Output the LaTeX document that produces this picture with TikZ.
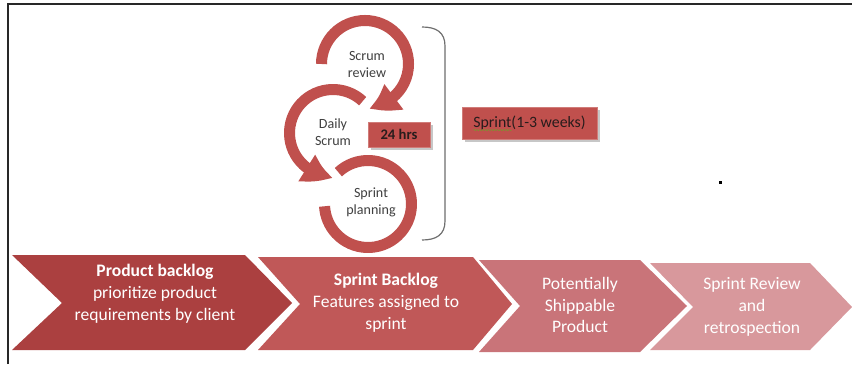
\documentclass[tikz,border=0pt]{standalone}
\usepackage{fontspec}
\setmainfont{Carlito}
\usetikzlibrary{arrows.meta,bending,decorations.pathmorphing}

\definecolor{ringred}{RGB}{192,80,77}
\definecolor{chevA}{RGB}{171,64,64}
\definecolor{chevB}{RGB}{192,88,88}
\definecolor{chevC}{RGB}{201,116,121}
\definecolor{chevD}{RGB}{216,152,156}
\definecolor{inktext}{RGB}{64,64,64}
\definecolor{boxtext}{RGB}{40,28,28}
\definecolor{spellgreen}{RGB}{130,140,50}
\definecolor{framegray}{RGB}{40,40,40}
\definecolor{bracegray}{RGB}{110,110,110}

\begin{document}
\begin{tikzpicture}[x=0.03cm,y=0.03cm,
  chevtext/.style={text=white, align=center, inner sep=0pt,
                   font=\fontsize{15}{18.5}\selectfont},
  ring/.style={draw=ringred, line width=9.4pt,
               preaction={draw=white, line width=12.4pt}},
  ringhead/.style={-{Triangle[length=24pt,width=25pt,bend]}},
  ringtext/.style={text=inktext, align=center, inner sep=0pt,
                   font=\fontsize{12}{14.5}\selectfont},
  tagbox/.style={fill=ringred, draw=ringred!75!white, line width=0.6pt},
  tagshadow/.style={fill=black!22},
  tagtext/.style={text=boxtext, inner sep=0pt, font=\bfseries\fontsize{12.5}{14}\selectfont}
]
\useasboundingbox (0,0) rectangle (852,364);
\fill[white] (0,0) rectangle (852,364);

% page frame
\draw[framegray, line width=1.6pt] (8,0) -- (8,360) -- (852,360);

% process chevrons, right to left so each sits on the next
\fill[chevD] (650,101) -- (810,101) -- (852,57) -- (810,14) -- (650,14) -- (693,57) -- cycle;
\fill[chevC] (479,104) -- (640,104) -- (687,58) -- (640,12) -- (479,12) -- (520,58) -- cycle;
\fill[chevB] (258,107) -- (473,107) -- (512,60) -- (473,14) -- (258,14) -- (300,60) -- cycle;
\fill[chevA] (12,109) -- (245,109) -- (292,61) -- (245,14) -- (12,14) -- (62,61) -- cycle;

\node[chevtext, font=\bfseries\fontsize{15}{18.5}\selectfont] (pbhead) at (155,92) {Product backlog};
\node[chevtext] (pbbody) at (155,59) {prioritize product\\requirements by client};
\node[chevtext, font=\bfseries\fontsize{15}{18.5}\selectfont] (sbhead) at (386,83) {Sprint Backlog};
\node[chevtext] (sbbody) at (386,50) {Features assigned to\\sprint};
\node[chevtext] (shippable) at (580,59) {Potentially\\Shippable\\Product};
\node[chevtext] (retro) at (752,57) {Sprint Review\\and\\retrospection};

% sprint cycle rings
\draw[ring] (368,160) ++(133:43.5) arc[start angle=133, end angle=-177, radius=43.5];
\draw[ring, ringhead] (333,231) ++(47:43.5) arc[start angle=47, end angle=270, radius=43.5];
\draw[ring, ringhead] (365,300) ++(180:43.5) arc[start angle=180, end angle=-85, radius=43.5];

\node[ringtext] (review) at (367,300) {Scrum\\review};
\node[ringtext] (daily) at (333,232) {Daily\\Scrum};
\node[ringtext] (planning) at (371,162) {Sprint\\planning};

% 24 hrs tag
\fill[tagshadow] (371,214) rectangle (433,239);
\node[tagbox, minimum width=62*0.03cm, minimum height=25*0.03cm, inner sep=0pt] (daytag) at (399,229.5) {};
\node[tagtext] (daylabel) at (daytag.center) {24 hrs};

% bracket round the cycle
\draw[bracegray, line width=1pt] (422,337) .. controls (436,337) and (445,332) .. (445,318)
  -- (445,143) .. controls (445,129) and (436,124) .. (422,124);

% sprint length tag
\fill[tagshadow] (465,222) rectangle (600,254);
\node[tagbox, minimum width=135*0.03cm, minimum height=32*0.03cm, inner sep=0pt] (sprinttag) at (529.5,241) {};
\node[tagtext, font=\fontsize{13.5}{15}\selectfont] (sprintlabel) at (sprinttag.center) {Sprint(1-3 weeks)};
\node[tagtext, font=\fontsize{13.5}{15}\selectfont, anchor=base west] (sprintword) at (sprintlabel.base west) {\phantom{Sprint}};
\draw[spellgreen, line width=0.5pt, decorate,
      decoration={snake, amplitude=0.6pt, segment length=2.5pt}]
  ([yshift=-2.2pt]sprintword.base west) -- ([yshift=-2.2pt]sprintword.base east);

% stray speck
\fill[black] (719,180) rectangle (722,183);
\end{tikzpicture}
\end{document}
